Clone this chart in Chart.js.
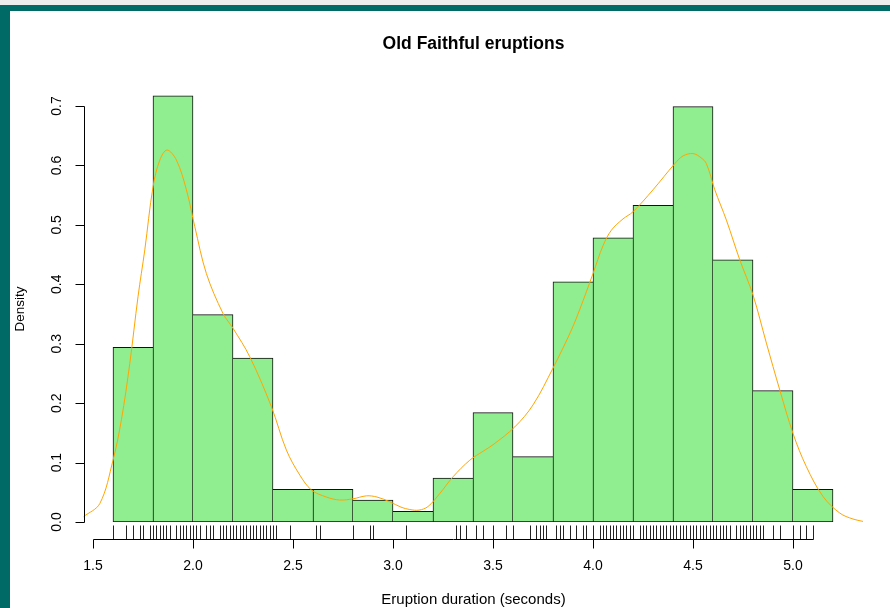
<!DOCTYPE html>
<html>
<head>
<meta charset="utf-8">
<script src="https://cdn.jsdelivr.net/npm/chart.js@4/dist/chart.umd.min.js"></script>
<style>
  html, body { margin: 0; padding: 0; }
  body { width: 890px; height: 608px; position: relative; overflow: hidden; background: #fff; }
  #winTop { position: absolute; left: 0; top: 0; width: 890px; height: 5px; background: #ececec; }
  #tealTop { position: absolute; left: 0; top: 5px; width: 890px; height: 6px; background: #006b66; }
  #tealLeft { position: absolute; left: 0; top: 5px; width: 10px; height: 603px; background: #006b66; }
  canvas { position: absolute; left: 0; top: 0; }
</style>
</head>
<body>
<div id="winTop"></div>
<div id="tealTop"></div>
<div id="tealLeft"></div>
<canvas id="hist" width="890" height="608"></canvas>
<script>
// --- histogram bins (midpoints) and densities ---
const binMids = [1.7, 1.9, 2.1, 2.3, 2.5, 2.7, 2.9, 3.1, 3.3, 3.5, 3.7, 3.9, 4.1, 4.3, 4.5, 4.7, 4.9, 5.1];
const densities = [0.294, 0.717, 0.349, 0.276, 0.055, 0.055, 0.037, 0.018, 0.074, 0.184,
                   0.110, 0.404, 0.478, 0.533, 0.699, 0.441, 0.221, 0.055];

// --- kernel density curve ---
const curveX = [1.453, 1.534, 1.600, 1.642, 1.684, 1.725, 1.759, 1.800, 1.834, 1.870, 1.917, 1.967,
                2.009, 2.067, 2.150, 2.200, 2.284, 2.392, 2.467, 2.534, 2.592, 2.667, 2.733, 2.800,
                2.867, 2.920, 2.984, 3.040, 3.084, 3.130, 3.175, 3.234, 3.300, 3.384, 3.450, 3.500,
                3.609, 3.700, 3.800, 3.892, 3.933, 4.000, 4.050, 4.092, 4.150, 4.200, 4.300, 4.409,
                4.450, 4.500, 4.540, 4.567, 4.609, 4.667, 4.734, 4.800, 4.867, 4.934, 5.000, 5.067,
                5.150, 5.234, 5.300, 5.350];
const curveY = [0.009, 0.031, 0.104, 0.172, 0.267, 0.379, 0.458, 0.564, 0.609, 0.626, 0.609, 0.559,
                0.497, 0.418, 0.351, 0.326, 0.278, 0.194, 0.121, 0.079, 0.054, 0.042, 0.037, 0.039,
                0.044, 0.042, 0.034, 0.025, 0.021, 0.020, 0.026, 0.048, 0.076, 0.104, 0.119, 0.130,
                0.160, 0.197, 0.259, 0.323, 0.357, 0.418, 0.465, 0.491, 0.510, 0.522, 0.559, 0.603,
                0.616, 0.620, 0.613, 0.603, 0.559, 0.508, 0.441, 0.382, 0.301, 0.222, 0.149, 0.093,
                0.043, 0.015, 0.005, 0.001];

// --- rug: eruption durations ---
const rugValues = [1.600, 1.667, 1.700, 1.733, 1.750, 1.783, 1.800, 1.817, 1.833, 1.850, 1.867, 1.883,
                   1.917, 1.933, 1.950, 1.967, 1.983, 2.000, 2.017, 2.033, 2.067, 2.083, 2.100, 2.133,
                   2.150, 2.167, 2.183, 2.200, 2.217, 2.233, 2.250, 2.267, 2.283, 2.300, 2.317, 2.333,
                   2.350, 2.367, 2.383, 2.400, 2.417, 2.483, 2.617, 2.633, 2.800, 2.883, 2.900, 3.067,
                   3.317, 3.333, 3.367, 3.417, 3.450, 3.500, 3.567, 3.600, 3.683, 3.717, 3.733, 3.750,
                   3.767, 3.817, 3.833, 3.850, 3.883, 3.917, 3.950, 3.967, 4.000, 4.033, 4.050, 4.067,
                   4.083, 4.100, 4.117, 4.133, 4.150, 4.167, 4.183, 4.200, 4.233, 4.250, 4.267, 4.283,
                   4.300, 4.317, 4.333, 4.350, 4.367, 4.383, 4.400, 4.417, 4.433, 4.450, 4.467, 4.483,
                   4.500, 4.517, 4.533, 4.550, 4.567, 4.583, 4.600, 4.617, 4.633, 4.650, 4.667, 4.683,
                   4.717, 4.733, 4.750, 4.767, 4.783, 4.800, 4.817, 4.833, 4.850, 4.900, 4.933, 5.000,
                   5.033, 5.067, 5.100];

// --- axis ticks ---
const xTicks = [1.5, 2.0, 2.5, 3.0, 3.5, 4.0, 4.5, 5.0];
const xTickLabels = ['1.5', '2.0', '2.5', '3.0', '3.5', '4.0', '4.5', '5.0'];
const yTicks = [0, 0.1, 0.2, 0.3, 0.4, 0.5, 0.6, 0.7];
const yTickLabels = ['0.0', '0.1', '0.2', '0.3', '0.4', '0.5', '0.6', '0.7'];

const titleText = 'Old Faithful eruptions';
const xTitle = 'Eruption duration (seconds)';
const yTitle = 'Density';

const FONT = '"Liberation Sans", Arial, Helvetica, sans-serif';

// shared edges between bars are drawn once, by the taller bar
function barBorder(ctx) {
    const i = ctx.dataIndex;
    const h = densities;
    const last = h.length - 1;
    return {
        top: 1,
        bottom: 1,
        left: (i === 0 || h[i] >= h[i - 1]) ? 1 : 0,
        right: (i === last || h[i] > h[i + 1]) ? 1 : 0
    };
}

// R style axes, rug and titles
const rDecor = {
    id: 'rDecor',
    afterDatasetsDraw(chart) {
        const ctx = chart.ctx;
        const xs = chart.scales.x;
        const ys = chart.scales.y;
        const area = chart.chartArea;
        const axisY = Math.round(ys.getPixelForValue(0)) + 17.5;
        const axisX = Math.round(area.left) + 1.5;

        ctx.save();
        ctx.fillStyle = '#000';
        ctx.lineWidth = 1;

        // rug ticks
        ctx.strokeStyle = '#222';
        ctx.beginPath();
        rugValues.forEach(v => {
            const px = Math.round(xs.getPixelForValue(v)) + 0.5;
            ctx.moveTo(px, axisY);
            ctx.lineTo(px, axisY - 14);
        });
        ctx.stroke();

        // x axis line (axis + rug line) and ticks
        ctx.strokeStyle = '#000';
        ctx.beginPath();
        ctx.moveTo(Math.round(xs.getPixelForValue(xTicks[0])) + 0.5, axisY);
        ctx.lineTo(Math.round(xs.getPixelForValue(Math.max(xTicks[xTicks.length - 1], rugValues[rugValues.length - 1]))) + 0.5, axisY);
        xTicks.forEach(v => {
            const px = Math.round(xs.getPixelForValue(v)) + 0.5;
            ctx.moveTo(px, axisY);
            ctx.lineTo(px, axisY + 9);
        });
        ctx.stroke();

        ctx.font = '14px ' + FONT;
        ctx.textAlign = 'center';
        ctx.textBaseline = 'middle';
        xTicks.forEach((v, i) => {
            ctx.fillText(xTickLabels[i], xs.getPixelForValue(v), axisY + 27);
        });

        // y axis line and ticks
        ctx.beginPath();
        ctx.moveTo(axisX, Math.round(ys.getPixelForValue(yTicks[0])) + 0.5);
        ctx.lineTo(axisX, Math.round(ys.getPixelForValue(yTicks[yTicks.length - 1])) + 0.5);
        yTicks.forEach(v => {
            const py = Math.round(ys.getPixelForValue(v)) + 0.5;
            ctx.moveTo(axisX, py);
            ctx.lineTo(axisX - 9, py);
        });
        ctx.stroke();

        yTicks.forEach((v, i) => {
            ctx.save();
            ctx.translate(axisX - 27.5, ys.getPixelForValue(v));
            ctx.rotate(-Math.PI / 2);
            ctx.fillText(yTickLabels[i], 0, 0);
            ctx.restore();
        });

        // titles
        const midX = (area.left + area.right) / 2 - 4.5;
        ctx.font = 'bold 17.5px ' + FONT;
        ctx.fillText(titleText, midX, 44);
        ctx.font = '15px ' + FONT;
        ctx.fillText(xTitle, midX, 600);

        ctx.font = '13.5px ' + FONT;
        ctx.save();
        ctx.translate(20.5, (ys.getPixelForValue(0) + ys.getPixelForValue(0.7)) / 2 - 5);
        ctx.rotate(-Math.PI / 2);
        ctx.fillText(yTitle, 0, 0);
        ctx.restore();

        ctx.restore();
    }
};

const canvas = document.getElementById('hist');
new Chart(canvas, {
    type: 'bar',
    data: {
        datasets: [
            {
                type: 'line',
                data: curveX.map((x, i) => ({ x: x, y: curveY[i] })),
                borderColor: '#ffa500',
                borderWidth: 1,
                pointRadius: 0,
                tension: 0.35,
                fill: false,
                order: 0
            },
            {
                type: 'bar',
                data: binMids.map((x, i) => ({ x: x, y: densities[i] })),
                backgroundColor: '#90ee90',
                borderColor: '#111',
                borderWidth: barBorder,
                borderSkipped: false,
                barPercentage: 1,
                categoryPercentage: 1,
                order: 1
            }
        ]
    },
    options: {
        responsive: false,
        animation: false,
        events: [],
        layout: { padding: { left: 83, right: 17, top: 76.3, bottom: 86 } },
        scales: {
            x: {
                type: 'linear', min: 1.45, max: 5.40, offset: false, display: false,
                ticks: { stepSize: 0.5, includeBounds: false }
            },
            y: { min: 0, max: 0.75, display: false }
        },
        plugins: {
            legend: { display: false },
            tooltip: { enabled: false }
        }
    },
    plugins: [rDecor]
});
</script>
</body>
</html>
